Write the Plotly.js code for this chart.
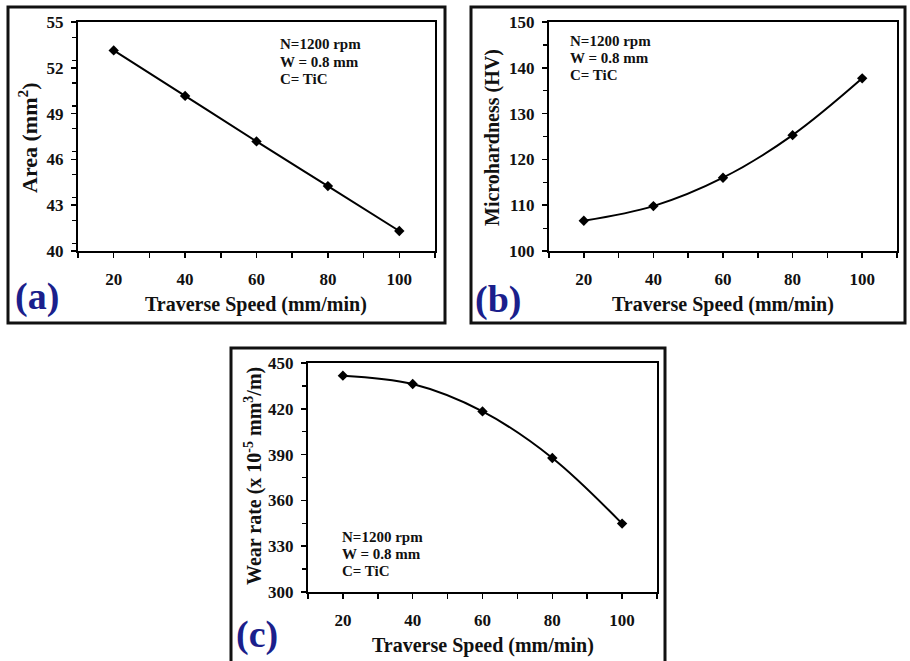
<!DOCTYPE html>
<html>
<head>
<meta charset="utf-8">
<script src="https://cdn.plot.ly/plotly-3.0.1.min.js"></script>
<style>
  html, body { margin: 0; padding: 0; background: #fff; }
  #chart { width: 910px; height: 661px; }
</style>
</head>
<body>
<div id="chart"></div>
<script>
// ---- data ----
const speed = [20, 40, 60, 80, 100];                 // Traverse speed (mm/min)
const area = [53.14, 50.16, 47.18, 44.25, 41.31];    // (a) Area (mm²)
const hardness = [106.6, 109.8, 116.0, 125.3, 137.7]; // (b) Microhardness (HV)
const wear = [441.7, 436.2, 418.3, 387.8, 344.8];     // (c) Wear rate (x10^-5 mm³/m)
const xTitle = "Traverse Speed (mm/min)";
const yTitles = ["Area (mm<sup>2</sup>)", "Microhardness (HV)", "Wear rate (x 10<sup>-5</sup> mm<sup>3</sup>/m)"];
const panelLabels = ["(a)", "(b)", "(c)"];
const conditions = ["N=1200 rpm", "W = 0.8 mm", "C= TiC"];

// ---- layout helpers ----
const W = 910, H = 661;
const px = x => x / W;
const py = y => 1 - y / H;
const FONT = "Liberation Serif, Times New Roman, serif";
const NAVY = "#1b1f8c";

function xAxis(x0, x1, anchor) {
  return {
    domain: [px(x0), px(x1)], anchor: anchor,
    range: [10, 110], autorange: false,
    tick0: 20, dtick: 20,
    ticks: "outside", ticklen: 5, tickwidth: 1.5, tickcolor: "black",
    minor: { tick0: 10, dtick: 10, ticks: "outside", ticklen: 5, tickwidth: 1.5, tickcolor: "black" },
    ticklabelstandoff: 7,
    showgrid: false, zeroline: false,
    showline: true, linecolor: "black", linewidth: 2, mirror: true,
    tickfont: { family: FONT, size: 17, weight: "bold", color: "#111" }
  };
}
function yAxis(y0, y1, r, dt, anchor) {
  return {
    domain: [py(y1), py(y0)], anchor: anchor,
    range: r, autorange: false,
    tick0: r[0], dtick: dt,
    ticks: "outside", ticklen: 5, tickwidth: 1.5, tickcolor: "black",
    minor: { dtick: dt / 2, ticks: "outside", ticklen: 4, tickwidth: 1.2, tickcolor: "black" },
    ticklabelstandoff: 4,
    showgrid: false, zeroline: false,
    showline: true, linecolor: "black", linewidth: 2, mirror: true,
    tickfont: { family: FONT, size: 17, weight: "bold", color: "#111" }
  };
}

function series(y, xa, ya) {
  return {
    x: speed, y: y, xaxis: xa, yaxis: ya,
    type: "scatter", mode: "lines+markers",
    line: { color: "black", width: 2, shape: "spline", smoothing: 1 },
    marker: { symbol: "diamond", size: 8, color: "black" },
    hoverinfo: "skip"
  };
}

const data = [
  series(area, "x", "y"),
  series(hardness, "x2", "y2"),
  series(wear, "x3", "y3")
];

function txt(text, x, y, size, opts) {
  return Object.assign({
    text: text, xref: "paper", yref: "paper", x: px(x), y: py(y),
    xanchor: "center", yanchor: "middle", showarrow: false,
    font: { family: FONT, size: size, weight: "bold", color: "#111" }
  }, opts || {});
}

const labelFont = { family: FONT, size: 38, weight: "bold", color: NAVY };
const annotations = [
  // axis titles
  txt(xTitle, 256, 304, 20),
  txt(xTitle, 723, 304, 20),
  txt(xTitle, 483, 645, 20),
  txt(yTitles[0], 28, 138, 22, { textangle: -90 }),
  txt(yTitles[1], 492, 137, 20, { textangle: -90 }),
  txt(yTitles[2], 253, 476, 20, { textangle: -90 }),
  // panel labels
  txt(panelLabels[0], 37, 297, 38, { font: labelFont }),
  txt(panelLabels[1], 498, 299, 38, { font: labelFont }),
  txt(panelLabels[2], 257, 634, 38, { font: labelFont })
];
// condition notes
const notePos = [[278, [44, 61.5, 79]], [568, [41, 58.3, 75]], [340, [537, 554, 571]]];
notePos.forEach(([x, ys]) => {
  conditions.forEach((c, i) => annotations.push(txt(c, x, ys[i], 15, { xanchor: "left" })));
});

const rect = (x0, y0, x1, y1) => ({
  type: "rect", xref: "paper", yref: "paper",
  x0: px(x0), x1: px(x1), y0: py(y1), y1: py(y0),
  line: { color: "#111", width: 3 }, fillcolor: "rgba(0,0,0,0)", layer: "below"
});

const layout = {
  width: W, height: H,
  margin: { l: 0, r: 0, t: 0, b: 0 },
  paper_bgcolor: "white", plot_bgcolor: "white",
  showlegend: false,
  xaxis: xAxis(78, 435, "y"),
  yaxis: yAxis(22, 251, [40, 55], 3, "x"),
  xaxis2: xAxis(549, 897, "y2"),
  yaxis2: yAxis(22, 251, [100, 150], 10, "x2"),
  xaxis3: xAxis(308, 657, "y3"),
  yaxis3: yAxis(363, 592, [300, 450], 30, "x3"),
  annotations: annotations,
  shapes: [
    rect(8, 7, 445, 323),
    rect(471, 7, 905, 323),
    rect(231, 348, 665, 668)
  ]
};

Plotly.newPlot("chart", data, layout, { staticPlot: true, displayModeBar: false });
</script>
</body>
</html>
